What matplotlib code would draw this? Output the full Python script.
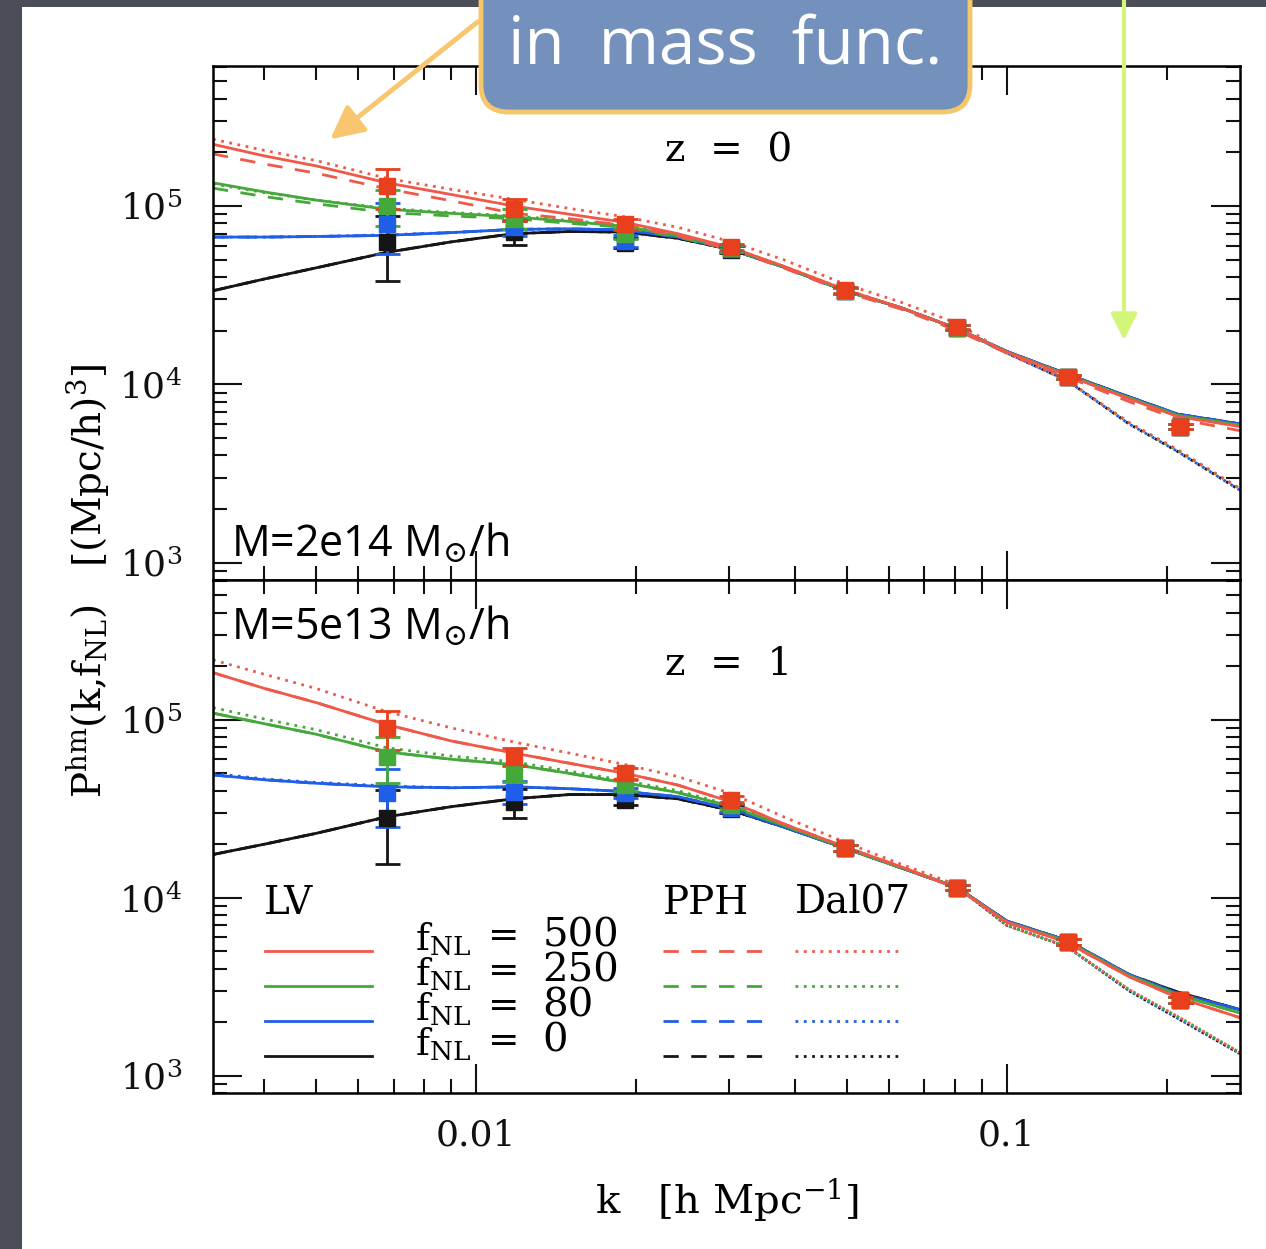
import matplotlib
matplotlib.use('Agg')
import matplotlib.pyplot as plt
from matplotlib.patches import FancyBboxPatch, Rectangle, FancyArrowPatch
from matplotlib.lines import Line2D
from matplotlib.ticker import FixedLocator, FixedFormatter, NullFormatter, LogLocator

plt.rcParams['mathtext.fontset'] = 'dejavuserif'
plt.rcParams['font.family'] = ['DejaVu Serif']

# ---------------- data ----------------
k_th = [0.0032, 0.004, 0.005, 0.0068, 0.009, 0.0118, 0.015, 0.0191, 0.024, 0.0303,
        0.038, 0.0496, 0.063, 0.0807, 0.1, 0.13, 0.17, 0.21, 0.275]

# z = 0, LV (solid)
lv0_500 = [2.22e5, 1.91e5, 1.68e5, 1.35e5, 1.16e5, 1.0e5, 9.0e4, 8.1e4, 7.0e4, 5.85e4,
           4.6e4, 3.4e4, 2.7e4, 2.05e4, 1.52e4, 1.12e4, 8.3e3, 6.6e3, 5.8e3]
lv0_250 = [1.35e5, 1.2e5, 1.08e5, 9.6e4, 9.1e4, 8.7e4, 8.2e4, 7.7e4, 6.8e4, 5.75e4,
           4.55e4, 3.35e4, 2.7e4, 2.05e4, 1.52e4, 1.13e4, 8.4e3, 6.7e3, 5.9e3]
lv0_80 = [6.7e4, 6.7e4, 6.75e4, 6.85e4, 7.1e4, 7.4e4, 7.45e4, 7.35e4, 6.7e4, 5.7e4,
          4.55e4, 3.35e4, 2.7e4, 2.05e4, 1.53e4, 1.14e4, 8.5e3, 6.8e3, 6.0e3]
lv0_0 = [3.35e4, 3.9e4, 4.5e4, 5.5e4, 6.3e4, 7.0e4, 7.2e4, 7.15e4, 6.6e4, 5.7e4,
         4.55e4, 3.35e4, 2.7e4, 2.05e4, 1.53e4, 1.14e4, 8.5e3, 6.8e3, 6.0e3]
# z = 0, PPH (dashed)
pph0_500 = [1.96e5, 1.72e5, 1.53e5, 1.25e5, 1.07e5, 9.1e4, 8.5e4, 7.8e4, 6.8e4, 5.7e4,
            4.5e4, 3.3e4, 2.65e4, 2.0e4, 1.5e4, 1.1e4, 8.0e3, 6.4e3, 5.5e3]
pph0_250 = [1.26e5, 1.13e5, 1.03e5, 9.2e4, 8.8e4, 8.5e4, 8.0e4, 7.6e4, 6.7e4, 5.7e4,
            4.55e4, 3.35e4, 2.7e4, 2.05e4, 1.52e4, 1.13e4, 8.4e3, 6.7e3, 5.9e3]
pph0_80 = lv0_80
pph0_0 = lv0_0
# z = 0, Dal07 (dotted)
dal0_500 = [2.37e5, 2.05e5, 1.8e5, 1.43e5, 1.24e5, 1.09e5, 9.7e4, 8.7e4, 7.6e4, 6.3e4,
            5.0e4, 3.65e4, 2.9e4, 2.2e4, 1.5e4, 1.05e4, 6.1e3, 4.3e3, 2.6e3]
dal0_250 = [1.33e5, 1.19e5, 1.08e5, 9.7e4, 9.2e4, 8.8e4, 8.3e4, 7.8e4, 6.9e4, 5.8e4,
            4.6e4, 3.4e4, 2.7e4, 2.05e4, 1.5e4, 1.05e4, 6.1e3, 4.25e3, 2.6e3]
dal0_80 = [6.7e4, 6.7e4, 6.75e4, 6.9e4, 7.1e4, 7.4e4, 7.45e4, 7.35e4, 6.7e4, 5.7e4,
           4.55e4, 3.35e4, 2.7e4, 2.05e4, 1.5e4, 1.05e4, 6.0e3, 4.2e3, 2.55e3]
dal0_0 = [3.35e4, 3.9e4, 4.5e4, 5.5e4, 6.3e4, 7.0e4, 7.2e4, 7.15e4, 6.6e4, 5.7e4,
          4.55e4, 3.35e4, 2.7e4, 2.05e4, 1.5e4, 1.05e4, 6.0e3, 4.2e3, 2.55e3]

# z = 1, LV (solid); PPH lies on top of it
lv1_500 = [1.84e5, 1.5e5, 1.25e5, 9.4e4, 7.6e4, 6.5e4, 5.7e4, 5.0e4, 4.3e4, 3.45e4,
           2.6e4, 1.93e4, 1.5e4, 1.13e4, 7.3e3, 5.6e3, 3.6e3, 2.75e3, 2.12e3]
lv1_250 = [1.09e5, 9.5e4, 8.3e4, 6.6e4, 6.0e4, 5.6e4, 5.0e4, 4.43e4, 3.9e4, 3.25e4,
           2.55e4, 1.9e4, 1.48e4, 1.14e4, 7.3e3, 5.7e3, 3.65e3, 2.85e3, 2.25e3]
lv1_80 = [4.9e4, 4.6e4, 4.4e4, 4.2e4, 4.15e4, 4.2e4, 4.1e4, 3.95e4, 3.7e4, 3.15e4,
          2.5e4, 1.9e4, 1.48e4, 1.14e4, 7.4e3, 5.75e3, 3.7e3, 2.9e3, 2.35e3]
lv1_0 = [1.75e4, 2.0e4, 2.3e4, 2.85e4, 3.25e4, 3.6e4, 3.8e4, 3.8e4, 3.6e4, 3.1e4,
         2.5e4, 1.9e4, 1.48e4, 1.14e4, 7.4e3, 5.75e3, 3.7e3, 2.95e3, 2.35e3]
pph1_500 = lv1_500
pph1_250 = lv1_250
pph1_80 = lv1_80
pph1_0 = lv1_0
# z = 1, Dal07 (dotted)
dal1_500 = [2.17e5, 1.8e5, 1.5e5, 1.11e5, 9.0e4, 7.5e4, 6.5e4, 5.6e4, 4.8e4, 3.85e4,
            2.85e4, 2.05e4, 1.55e4, 1.18e4, 7.0e3, 5.3e3, 3.05e3, 2.15e3, 1.35e3]
dal1_250 = [1.17e5, 1.01e5, 8.8e4, 6.96e4, 6.25e4, 5.8e4, 5.15e4, 4.55e4, 4.0e4, 3.3e4,
            2.6e4, 1.92e4, 1.49e4, 1.15e4, 7.0e3, 5.3e3, 3.05e3, 2.15e3, 1.35e3]
dal1_80 = [5.0e4, 4.65e4, 4.45e4, 4.25e4, 4.15e4, 4.2e4, 4.1e4, 3.95e4, 3.7e4, 3.15e4,
           2.5e4, 1.9e4, 1.48e4, 1.15e4, 7.0e3, 5.3e3, 3.0e3, 2.1e3, 1.33e3]
dal1_0 = [1.75e4, 2.0e4, 2.3e4, 2.85e4, 3.25e4, 3.6e4, 3.8e4, 3.8e4, 3.6e4, 3.1e4,
          2.5e4, 1.9e4, 1.48e4, 1.15e4, 7.0e3, 5.3e3, 3.0e3, 2.1e3, 1.33e3]

# simulation points
k_pts = [0.0068, 0.0118, 0.0191, 0.0303, 0.0496, 0.0807, 0.1305, 0.212]
pts0_500 = [1.29e5, 9.6e4, 7.9e4, 5.9e4, 3.38e4, 2.1e4, 1.1e4, 5.8e3]
err0_500 = [3.3e4, 1.4e4, 6.0e3, 2.5e3, 1.2e3, 6.0e2, 3.0e2, 2.0e2]
pts0_250 = [1.0e5, 8.5e4, 7.0e4, 5.8e4, 3.35e4, 2.08e4, 1.1e4, 5.8e3]
err0_250 = [2.3e4, 1.1e4, 5.0e3, 2.5e3, 1.2e3, 6.0e2, 3.0e2, 2.0e2]
pts0_80 = [7.9e4, 7.6e4, 6.4e4, 5.75e4, 3.35e4, 2.08e4, 1.1e4, 5.8e3]
err0_80 = [2.5e4, 8.0e3, 5.0e3, 2.5e3, 1.2e3, 6.0e2, 3.0e2, 2.0e2]
pts0_0 = [6.3e4, 7.15e4, 6.2e4, 5.7e4, 3.35e4, 2.08e4, 1.1e4, 5.8e3]
err0_0 = [2.5e4, 1.1e4, 4.0e3, 2.5e3, 1.2e3, 6.0e2, 3.0e2, 2.0e2]

pts1_500 = [9.0e4, 6.2e4, 5.0e4, 3.56e4, 1.9e4, 1.14e4, 5.66e3, 2.67e3]
err1_500 = [2.2e4, 7.0e3, 3.5e3, 1.5e3, 7.0e2, 4.0e2, 2.0e2, 1.0e2]
pts1_250 = [6.2e4, 5.0e4, 4.3e4, 3.3e4, 1.9e4, 1.14e4, 5.66e3, 2.67e3]
err1_250 = [1.8e4, 5.5e3, 3.0e3, 1.5e3, 7.0e2, 4.0e2, 2.0e2, 1.0e2]
pts1_80 = [3.9e4, 3.95e4, 3.9e4, 3.2e4, 1.9e4, 1.14e4, 5.66e3, 2.67e3]
err1_80 = [1.4e4, 6.0e3, 2.5e3, 1.5e3, 7.0e2, 4.0e2, 2.0e2, 1.0e2]
pts1_0 = [2.8e4, 3.45e4, 3.55e4, 3.15e4, 1.9e4, 1.14e4, 5.66e3, 2.67e3]
err1_0 = [1.25e4, 6.5e3, 2.5e3, 1.5e3, 7.0e2, 4.0e2, 2.0e2, 1.0e2]

fnl_labels = ['500', '250', '80', '0']
line_cols = ['#f0584a', '#45a83a', '#1f5ee8', '#151515']
pt_cols = ['#e8401c', '#45a83a', '#1f5ee8', '#151515']

W, H = 1266, 1249
fig = plt.figure(figsize=(W / 100, H / 100), dpi=100)
fig.patch.set_facecolor('#4b4e56')
fig.add_artist(Rectangle((22 / W, 0), 1, 1 - 7 / H, transform=fig.transFigure,
                         facecolor='white', edgecolor='none', zorder=-1))

ax0 = fig.add_axes([213 / W, 1 - 580 / H, 1027 / W, 514 / H])
ax1 = fig.add_axes([213 / W, 1 - 1093 / H, 1027 / W, 513 / H])

dash = (0, (5.5, 4.5))
dot = (0, (1, 2))

panels = [
    (ax0, [lv0_500, lv0_250, lv0_80, lv0_0], [pph0_500, pph0_250, pph0_80, pph0_0],
     [dal0_500, dal0_250, dal0_80, dal0_0], [pts0_500, pts0_250, pts0_80, pts0_0],
     [err0_500, err0_250, err0_80, err0_0]),
    (ax1, [lv1_500, lv1_250, lv1_80, lv1_0], [pph1_500, pph1_250, pph1_80, pph1_0],
     [dal1_500, dal1_250, dal1_80, dal1_0], [pts1_500, pts1_250, pts1_80, pts1_0],
     [err1_500, err1_250, err1_80, err1_0]),
]

for ax, lv, pph, dal, pts, errs in panels:
    for i in [3, 2, 1, 0]:
        ax.plot(k_th, dal[i], color=line_cols[i], lw=2, ls=dot)
        ax.plot(k_th, pph[i], color=line_cols[i], lw=2, ls=dash)
        ax.plot(k_th, lv[i], color=line_cols[i], lw=2)
    for i in [3, 2, 1, 0]:
        ax.errorbar(k_pts, pts[i], yerr=errs[i], fmt='s', color=pt_cols[i], ms=11,
                    elinewidth=2, capsize=9, capthick=2, zorder=5)

    ax.set_xscale('log')
    ax.set_yscale('log')
    ax.set_xlim(0.0032, 0.275)
    ax.set_ylim(8.0e2, 6.1e5)
    ax.xaxis.set_major_locator(FixedLocator([0.01, 0.1]))
    ax.xaxis.set_minor_locator(LogLocator(base=10, subs=range(2, 10)))
    ax.yaxis.set_major_locator(FixedLocator([1e3, 1e4, 1e5]))
    ax.yaxis.set_minor_locator(LogLocator(base=10, subs=range(2, 10)))
    ax.yaxis.set_major_formatter(FixedFormatter([r'$10^3$', r'$10^4$', r'$10^5$']))
    ax.xaxis.set_minor_formatter(NullFormatter())
    ax.yaxis.set_minor_formatter(NullFormatter())
    ax.tick_params(which='both', direction='in', top=True, right=True, width=1.5,
                   labelsize=26, colors='#111111')
    ax.tick_params(which='major', length=21)
    ax.tick_params(which='minor', length=10)
    ax.tick_params(axis='y', pad=22)
    ax.tick_params(axis='x', pad=18)
    for s in ax.spines.values():
        s.set_linewidth(1.8)

ax0.xaxis.set_major_formatter(NullFormatter())
ax1.xaxis.set_major_formatter(FixedFormatter(['0.01', '0.1']))

ax0.text(0.502, 0.835, 'z  =  0', transform=ax0.transAxes, fontsize=28, ha='center', va='center')
ax1.text(0.502, 0.835, 'z  =  1', transform=ax1.transAxes, fontsize=28, ha='center', va='center')

mfont = ['Open Sans', 'DejaVu Sans']
ax0.text(0.018, 0.045, r'M=2e14 M$_{\odot}$/h', transform=ax0.transAxes, fontsize=31,
         family=mfont, ha='left', va='baseline')
ax1.text(0.018, 0.885, r'M=5e13 M$_{\odot}$/h', transform=ax1.transAxes, fontsize=31,
         family=mfont, ha='left', va='baseline')

# legend block in lower panel
ax1.text(0.050, 0.37, 'LV', transform=ax1.transAxes, fontsize=28, ha='left', va='center')
ax1.text(0.438, 0.37, 'PPH', transform=ax1.transAxes, fontsize=28, ha='left', va='center')
ax1.text(0.567, 0.37, 'Dal07', transform=ax1.transAxes, fontsize=28, ha='left', va='center')
rows = [0.2768, 0.2086, 0.1404, 0.0721]
for i, yr in enumerate(rows):
    ax1.add_line(Line2D([0.0506, 0.1548], [yr, yr], transform=ax1.transAxes,
                        color=line_cols[i], lw=2))
    ax1.add_line(Line2D([0.438, 0.541], [yr, yr], transform=ax1.transAxes,
                        color=line_cols[i], lw=2, ls=dash))
    ax1.add_line(Line2D([0.567, 0.669], [yr, yr], transform=ax1.transAxes,
                        color=line_cols[i], lw=2, ls=dot))
    ax1.text(0.197, yr + 0.002, r'f$_{\mathrm{NL}}$', transform=ax1.transAxes,
             fontsize=27, ha='left', va='baseline')
    ax1.text(0.268, yr + 0.008, '=', transform=ax1.transAxes, fontsize=27,
             ha='left', va='baseline')
    ax1.text(0.321, yr + 0.008, fnl_labels[i], transform=ax1.transAxes, fontsize=29,
             ha='left', va='baseline')

fig.text(88 / W, 1 - 581 / H, r'P$^{\rm hm}$(k,f$_{\rm NL}$)   [(Mpc/h)$^3$]',
         rotation=90, fontsize=28, ha='center', va='center')
fig.text(727 / W, 1 - 1200 / H, r'k   [h Mpc$^{-1}$]', fontsize=29, ha='center', va='center')

# slide overlay: arrows and callout box
fig.add_artist(FancyArrowPatch((480 / W, 1 - 20 / H), (328 / W, 1 - 141 / H),
                               transform=fig.transFigure, arrowstyle='-|>', mutation_scale=50,
                               color='#f7c66e', lw=3.5, zorder=5))
fig.add_artist(FancyArrowPatch((1124 / W, 1.01), (1124 / W, 1 - 343 / H),
                               transform=fig.transFigure, arrowstyle='-|>', mutation_scale=40,
                               color='#d3f57a', lw=3, zorder=5))
fig.add_artist(FancyBboxPatch((481 / W, 1 - 112 / H), (970 - 481) / W, 0.2,
                              boxstyle='round,pad=0,rounding_size=0.022',
                              transform=fig.transFigure, facecolor='#7391bc',
                              edgecolor='#f6c66a', lw=3.5, zorder=10))
fig.text(725 / W, 1 - 46 / H, 'in  mass  func.', color='white', fontsize=47,
         family=['Open Sans', 'DejaVu Sans'], ha='center', va='center', zorder=11)

fig.savefig('out.png', dpi=100)
